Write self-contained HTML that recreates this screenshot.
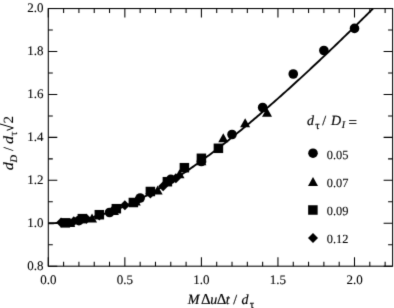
<!DOCTYPE html>
<html><head><meta charset="utf-8"><style>html,body{margin:0;padding:0;background:#fff;}svg{display:block;}text{font-family:"Liberation Serif",serif;text-rendering:geometricPrecision;}</style></head>
<body><div style="will-change:transform;width:394px;height:308px"><svg width="394" height="308" viewBox="0 0 394 308"><defs><filter id="bl" filterUnits="userSpaceOnUse" x="0" y="0" width="394" height="308"><feConvolveMatrix order="3" kernelMatrix="0.01134 0.08382 0.01134 0.08382 0.61935 0.08382 0.01134 0.08382 0.01134" preserveAlpha="false"/></filter></defs><rect width="394" height="308" fill="#fff"/><g filter="url(#bl)"><rect x="48.3" y="8.55" width="344.3" height="257.65" fill="none" stroke="#000" stroke-width="1.05"/><path d="M48.30 266.2v-9M48.30 8.55v9M63.61 266.2v-4.5M63.61 8.55v4.5M78.92 266.2v-4.5M78.92 8.55v4.5M94.23 266.2v-4.5M94.23 8.55v4.5M109.54 266.2v-4.5M109.54 8.55v4.5M124.85 266.2v-9M124.85 8.55v9M140.16 266.2v-4.5M140.16 8.55v4.5M155.47 266.2v-4.5M155.47 8.55v4.5M170.78 266.2v-4.5M170.78 8.55v4.5M186.09 266.2v-4.5M186.09 8.55v4.5M201.40 266.2v-9M201.40 8.55v9M216.71 266.2v-4.5M216.71 8.55v4.5M232.02 266.2v-4.5M232.02 8.55v4.5M247.33 266.2v-4.5M247.33 8.55v4.5M262.64 266.2v-4.5M262.64 8.55v4.5M277.95 266.2v-9M277.95 8.55v9M293.26 266.2v-4.5M293.26 8.55v4.5M308.57 266.2v-4.5M308.57 8.55v4.5M323.88 266.2v-4.5M323.88 8.55v4.5M339.19 266.2v-4.5M339.19 8.55v4.5M354.50 266.2v-9M354.50 8.55v9M369.81 266.2v-4.5M369.81 8.55v4.5M385.12 266.2v-4.5M385.12 8.55v4.5M48.3 266.20h9M392.6 266.20h-9M48.3 244.73h4.5M392.6 244.73h-4.5M48.3 223.26h9M392.6 223.26h-9M48.3 201.79h4.5M392.6 201.79h-4.5M48.3 180.32h9M392.6 180.32h-9M48.3 158.85h4.5M392.6 158.85h-4.5M48.3 137.38h9M392.6 137.38h-9M48.3 115.91h4.5M392.6 115.91h-4.5M48.3 94.44h9M392.6 94.44h-9M48.3 72.97h4.5M392.6 72.97h-4.5M48.3 51.50h9M392.6 51.50h-9M48.3 30.03h4.5M392.6 30.03h-4.5M48.3 8.56h9M392.6 8.56h-9" stroke="#000" stroke-width="1.05" fill="none"/><polyline points="48.30,223.26 49.92,223.25 51.55,223.23 53.17,223.19 54.80,223.13 56.42,223.06 58.04,222.97 59.67,222.87 61.29,222.75 62.91,222.61 64.54,222.46 66.16,222.29 67.79,222.10 69.41,221.90 71.03,221.69 72.66,221.46 74.28,221.21 75.91,220.95 77.53,220.67 79.15,220.37 80.78,220.06 82.40,219.74 84.03,219.40 85.65,219.04 87.27,218.67 88.90,218.29 90.52,217.88 92.14,217.47 93.77,217.04 95.39,216.59 97.02,216.13 98.64,215.66 100.26,215.17 101.89,214.66 103.51,214.15 105.14,213.61 106.76,213.07 108.38,212.51 110.01,211.93 111.63,211.34 113.25,210.74 114.88,210.13 116.50,209.50 118.13,208.86 119.75,208.20 121.37,207.53 123.00,206.85 124.62,206.16 126.25,205.45 127.87,204.73 129.49,204.00 131.12,203.25 132.74,202.49 134.37,201.72 135.99,200.94 137.61,200.15 139.24,199.34 140.86,198.53 142.48,197.70 144.11,196.86 145.73,196.01 147.36,195.14 148.98,194.27 150.60,193.38 152.23,192.49 153.85,191.58 155.48,190.66 157.10,189.74 158.72,188.80 160.35,187.85 161.97,186.89 163.59,185.92 165.22,184.94 166.84,183.95 168.47,182.95 170.09,181.95 171.71,180.93 173.34,179.90 174.96,178.87 176.59,177.82 178.21,176.77 179.83,175.70 181.46,174.63 183.08,173.55 184.71,172.46 186.33,171.36 187.95,170.26 189.58,169.14 191.20,168.02 192.82,166.89 194.45,165.75 196.07,164.60 197.70,163.45 199.32,162.28 200.94,161.11 202.57,159.94 204.19,158.75 205.82,157.56 207.44,156.36 209.06,155.15 210.69,153.94 212.31,152.72 213.93,151.49 215.56,150.26 217.18,149.01 218.81,147.77 220.43,146.51 222.05,145.25 223.68,143.99 225.30,142.71 226.93,141.43 228.55,140.15 230.17,138.86 231.80,137.56 233.42,136.25 235.05,134.95 236.67,133.63 238.29,132.31 239.92,130.98 241.54,129.65 243.16,128.32 244.79,126.97 246.41,125.62 248.04,124.27 249.66,122.91 251.28,121.55 252.91,120.18 254.53,118.81 256.16,117.43 257.78,116.05 259.40,114.66 261.03,113.27 262.65,111.87 264.27,110.47 265.90,109.06 267.52,107.65 269.15,106.24 270.77,104.82 272.39,103.39 274.02,101.96 275.64,100.53 277.27,99.10 278.89,97.66 280.51,96.21 282.14,94.76 283.76,93.31 285.39,91.85 287.01,90.39 288.63,88.93 290.26,87.46 291.88,85.99 293.50,84.51 295.13,83.04 296.75,81.55 298.38,80.07 300.00,78.58 301.62,77.09 303.25,75.59 304.87,74.09 306.50,72.59 308.12,71.08 309.74,69.57 311.37,68.06 312.99,66.54 314.61,65.02 316.24,63.50 317.86,61.98 319.49,60.45 321.11,58.92 322.73,57.38 324.36,55.85 325.98,54.31 327.61,52.77 329.23,51.22 330.85,49.67 332.48,48.12 334.10,46.57 335.73,45.01 337.35,43.45 338.97,41.89 340.60,40.33 342.22,38.76 343.84,37.19 345.47,35.62 347.09,34.05 348.72,32.47 350.34,30.90 351.96,29.31 353.59,27.73 355.21,26.15 356.84,24.56 358.46,22.97 360.08,21.38 361.71,19.78 363.33,18.18 364.95,16.59 366.58,14.98 368.20,13.38 369.83,11.78 371.45,10.17 373.07,8.56" fill="none" stroke="#000" stroke-width="1.9"/><g fill="#000"><path d="M61.06 217.5L66.06 222.5L61.06 227.5L56.06 222.5Z"/><rect x="60.56" y="218.1" width="9.5" height="9.5"/><path d="M70.17 218.1L75.17 227.1L65.17 227.1Z"/><circle cx="78.92" cy="220.6" r="4.8"/><path d="M73.82 216.28L78.82 221.28L73.82 226.28L68.82 221.28Z"/><rect x="77.57" y="213.9" width="9.5" height="9.5"/><path d="M92.04 213.4L97.04 222.4L87.04 222.4Z"/><circle cx="109.54" cy="212.5" r="4.8"/><path d="M86.57 213.83L91.57 218.83L86.57 223.83L81.57 218.83Z"/><rect x="94.58" y="209.95" width="9.5" height="9.5"/><path d="M113.91 205.99L118.91 214.99L108.91 214.99Z"/><circle cx="140.16" cy="198" r="4.8"/><path d="M99.33 210.45L104.33 215.45L99.33 220.45L94.33 215.45Z"/><rect x="111.59" y="203.95" width="9.5" height="9.5"/><path d="M135.79 196.54L140.79 205.54L130.79 205.54Z"/><circle cx="170.78" cy="179.4" r="4.8"/><path d="M112.09 206.18L117.09 211.18L112.09 216.18L107.09 211.18Z"/><rect x="128.61" y="197.75" width="9.5" height="9.5"/><path d="M157.66 185.5L162.66 194.5L152.66 194.5Z"/><circle cx="201.4" cy="161.5" r="4.8"/><path d="M124.85 200.2L129.85 205.2L124.85 210.2L119.85 205.2Z"/><rect x="145.62" y="186.75" width="9.5" height="9.5"/><path d="M179.53 169.3L184.53 178.3L174.53 178.3Z"/><circle cx="232.02" cy="134.5" r="4.8"/><path d="M137.61 195.15L142.61 200.15L137.61 205.15L132.61 200.15Z"/><rect x="162.63" y="176.95" width="9.5" height="9.5"/><path d="M201.4 156.28L206.4 165.28L196.4 165.28Z"/><circle cx="262.64" cy="107.5" r="4.8"/><path d="M150.37 188.51L155.37 193.51L150.37 198.51L145.37 193.51Z"/><rect x="179.64" y="162.95" width="9.5" height="9.5"/><path d="M223.27 133.2L228.27 142.2L218.27 142.2Z"/><circle cx="293.26" cy="74" r="4.8"/><path d="M163.12 181.2L168.12 186.2L163.12 191.2L158.12 186.2Z"/><rect x="196.65" y="153.55" width="9.5" height="9.5"/><path d="M245.14 118.2L250.14 127.2L240.14 127.2Z"/><circle cx="323.88" cy="50.5" r="4.8"/><path d="M175.88 173.27L180.88 178.27L175.88 183.27L170.88 178.27Z"/><rect x="213.66" y="143.55" width="9.5" height="9.5"/><path d="M267.01 107.7L272.01 116.7L262.01 116.7Z"/><circle cx="354.5" cy="28.4" r="4.8"/><circle cx="313" cy="153.2" r="4.8"/><path d="M313 176.9L318.0 185.9L308.0 185.9Z"/><rect x="308.15" y="205.25" width="9.5" height="9.5"/><path d="M313 233L318 238L313 243L308 238Z"/></g><g font-family="Liberation Serif" font-size="13" fill="#000" stroke="#000" stroke-width="0.18"><text x="43.6" y="12.16" text-anchor="end" stroke-width="0.1">2.0</text><text x="43.6" y="55.10" text-anchor="end" stroke-width="0.1">1.8</text><text x="43.6" y="98.04" text-anchor="end" stroke-width="0.1">1.6</text><text x="43.6" y="140.98" text-anchor="end" stroke-width="0.1">1.4</text><text x="43.6" y="183.92" text-anchor="end" stroke-width="0.1">1.2</text><text x="43.6" y="226.86" text-anchor="end" stroke-width="0.1">1.0</text><text x="43.6" y="269.80" text-anchor="end" stroke-width="0.1">0.8</text><text x="48.30" y="283.6" text-anchor="middle" stroke-width="0.1">0.0</text><text x="124.85" y="283.6" text-anchor="middle" stroke-width="0.1">0.5</text><text x="201.40" y="283.6" text-anchor="middle" stroke-width="0.1">1.0</text><text x="277.95" y="283.6" text-anchor="middle" stroke-width="0.1">1.5</text><text x="354.50" y="283.6" text-anchor="middle" stroke-width="0.1">2.0</text><text x="326.7" y="158.50" stroke-width="0.1" font-size="12.4">0.05</text><text x="326.7" y="186.60" stroke-width="0.1" font-size="12.4">0.07</text><text x="326.7" y="214.70" stroke-width="0.1" font-size="12.4">0.09</text><text x="326.7" y="242.80" stroke-width="0.1" font-size="12.4">0.12</text><text y="125" font-size="14"><tspan x="307" font-style="italic">d</tspan><tspan x="315.2" y="128.6" font-size="11">τ</tspan><tspan x="322.3" y="125">/</tspan><tspan x="331.1" font-style="italic">D</tspan><tspan x="341.8" y="128.4" font-size="10" font-style="italic">I</tspan><tspan x="348.55" y="126.8" font-size="15">=</tspan></text><text y="303.5" font-size="14"><tspan x="187.7" font-style="italic">M</tspan><tspan x="201.0" font-size="15">Δ</tspan><tspan x="210.2" font-style="italic">u</tspan><tspan x="216.8" font-size="15">Δ</tspan><tspan x="225.7" font-style="italic">t</tspan><tspan x="233.3">/</tspan><tspan x="241.5" font-style="italic">d</tspan><tspan x="249.8" y="308" font-size="11">τ</tspan></text><text transform="translate(12.8,170.2) rotate(-90) scale(1.15,1)" font-size="14" stroke-width="0.12" font-style="italic">d</text><text transform="translate(16.8,162.5) rotate(-90) scale(1.05,1)" font-size="10" stroke-width="0.12" font-style="italic">D</text><text transform="translate(12.8,151.1) rotate(-90) scale(1.0,1)" font-size="14" stroke-width="0.12">/</text><text transform="translate(12.8,144.0) rotate(-90) scale(1.15,1)" font-size="14" stroke-width="0.12" font-style="italic">d</text><text transform="translate(17.0,136.0) rotate(-90) scale(1.0,1)" font-size="11" stroke-width="0.12">τ</text><text transform="translate(12.8,123.4) rotate(-90) scale(1.08,1)" font-size="14" stroke-width="0.12">2</text></g><path d="M6.8 130.3L9 129.6L13.3 127.9L-0.5 123.8" fill="none" stroke="#000" stroke-width="1"/></g></svg></div></body></html>
